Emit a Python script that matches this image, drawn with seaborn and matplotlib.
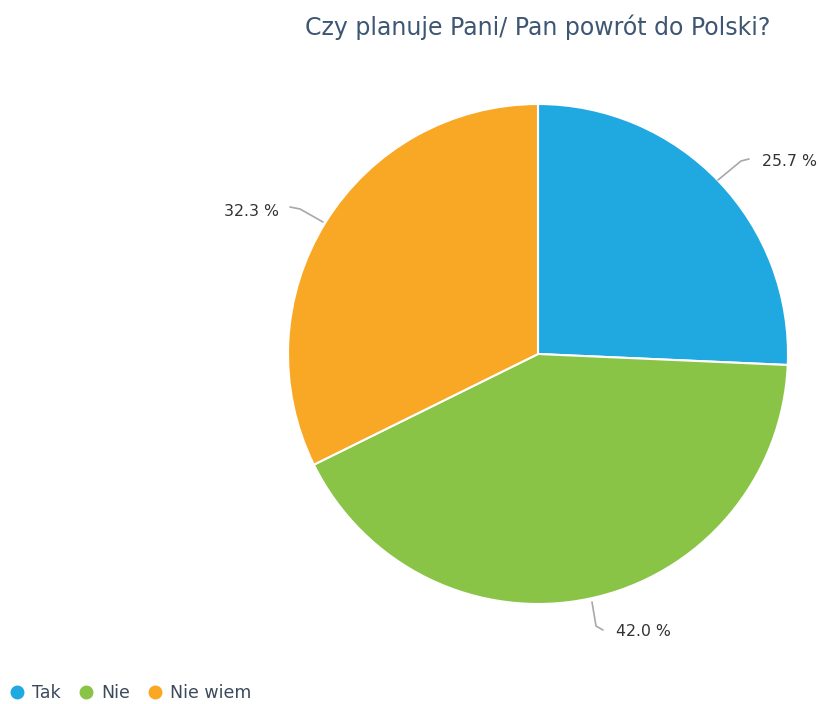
import matplotlib
matplotlib.use("Agg")
import matplotlib.pyplot as plt
from matplotlib.lines import Line2D
import seaborn as sns

categories = ["Tak", "Nie", "Nie wiem"]
shares = [25.7, 42.0, 32.3]
colors = ["#20a8e0", "#89c446", "#f9a825"]
title = "Czy planuje Pani/ Pan powrót do Polski?"

sns.set_theme(style="white")
plt.rcParams["font.family"] = ["DejaVu Sans"]

W, H = 819, 704
fig = plt.figure(figsize=(W / 100, H / 100), dpi=100)
ax = fig.add_axes([0, 0, 1, 1])

cx, cy, r = 538, H - 354, 250
ax.pie(
    shares, colors=colors, startangle=90, counterclock=False,
    center=(cx, cy), radius=r, frame=True,
    wedgeprops=dict(edgecolor="white", linewidth=1.5),
)
ax.set_xlim(0, W)
ax.set_ylim(0, H)
ax.set_aspect("equal")
ax.axis("off")

# value labels with leader lines (pixel positions from the top-left corner)
label_spec = [
    # (leader polyline, text position, alignment)
    ([(718, 180), (741, 161), (749, 159)], (762, 161), "left"),
    ([(592, 602), (596, 626), (603, 630)], (616, 632), "left"),
    ([(323, 222), (300, 209), (290, 207)], (279, 211), "right"),
]
for val, (pts, tp, ha) in zip(shares, label_spec):
    xs = [p[0] for p in pts]
    ys = [H - p[1] for p in pts]
    ax.plot(xs, ys, color="#a8a8a8", lw=1.2, solid_joinstyle="round",
            solid_capstyle="round")
    ax.text(tp[0], H - tp[1], f"{val:.1f} %", ha=ha, va="center",
            fontsize=11.3, color="#333333")

fig.text(538 / W, 1 - 27 / H, title, ha="center", va="center",
         fontsize=17, color="#3d5673")

handles = [Line2D([], [], marker="o", linestyle="", markersize=9,
                  markerfacecolor=c, markeredgecolor=c) for c in colors]
leg = fig.legend(handles, categories, loc="lower left",
                 bbox_to_anchor=(0.0, 0.0), ncol=3, frameon=False,
                 fontsize=12.5, handletextpad=0.38, columnspacing=0.95,
                 borderaxespad=0.0, handlelength=1.0,
                 borderpad=0.0)
leg.set_bbox_to_anchor((8 / W, 2 / H), transform=fig.transFigure)
for t in leg.get_texts():
    t.set_color("#3d4a5c")

fig.savefig("out.png", dpi=100, facecolor="white")
